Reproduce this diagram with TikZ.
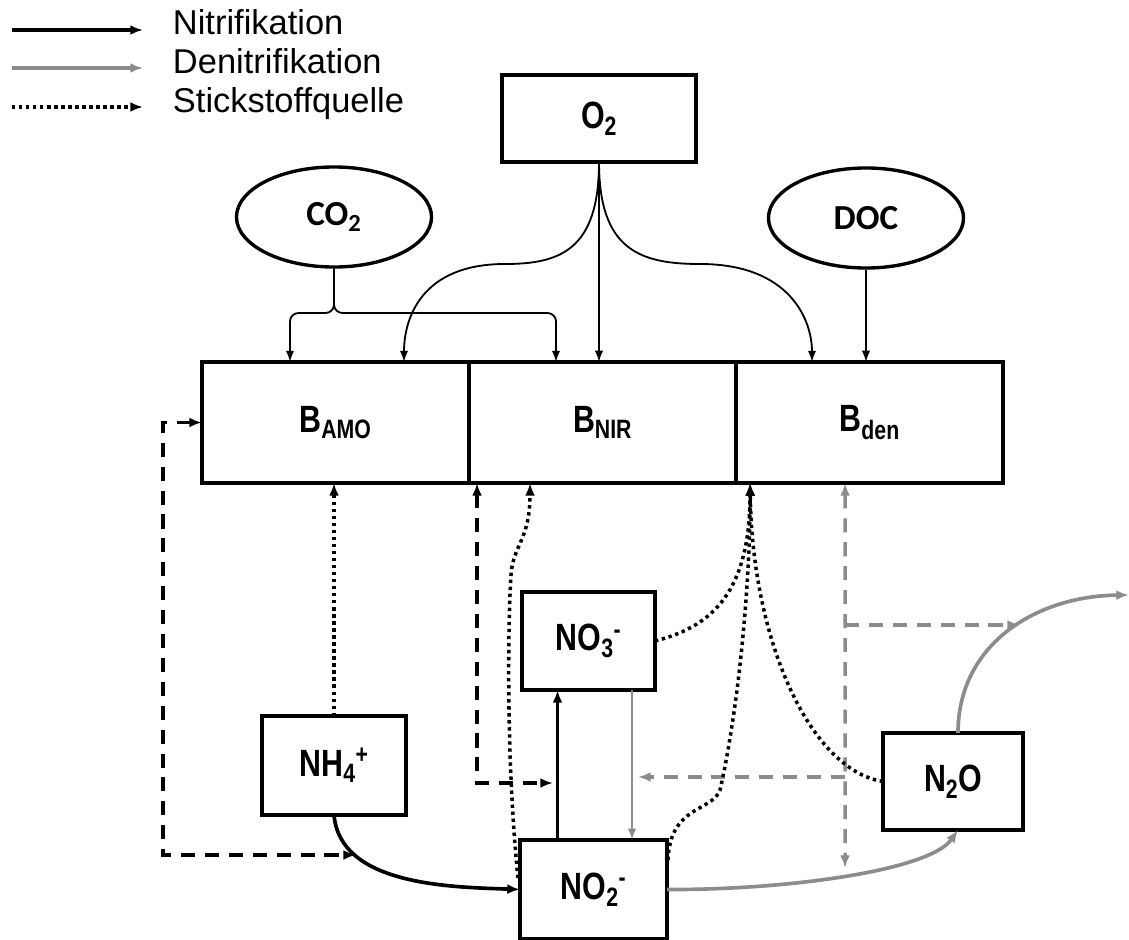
\documentclass[tikz,border=0pt]{standalone}
\usepackage{fontspec}
\usepackage{graphicx}
\setmainfont{Liberation Sans}
\newfontfamily\carlito{Carlito}
\usepackage{tikz}
\usetikzlibrary{arrows.meta,positioning,shapes.geometric,calc}
\definecolor{denigray}{HTML}{8C8C8C}
\newcommand{\narrowlbl}[1]{\scalebox{0.8}[1]{#1}}

\begin{document}
\begin{tikzpicture}[
    x=0.025cm,y=-0.025cm,
    >={Latex[length=9pt,width=7pt]},
    font=\fontsize{24.5}{29}\selectfont,
    pool/.style={draw,line width=2.7pt,rectangle,inner sep=0pt,outer sep=0pt,fill=white,font=\fontsize{27}{32}\selectfont\bfseries},
    bact/.style={pool,minimum width=6.675cm,minimum height=3.025cm},
    substrate/.style={draw,line width=2.4pt,ellipse,inner sep=0pt,minimum width=4.875cm,minimum height=2.5cm,font=\fontsize{25}{30}\selectfont\carlito\bfseries},
    supply/.style={-{Latex[length=8pt,width=6pt]},line width=1.3pt},
    nitri/.style={->,line width=2.6pt},
    deni/.style={nitri,draw=denigray},
    denithin/.style={supply,draw=denigray,line width=1.6pt},
    source/.style={->,line width=2.5pt,dash pattern=on 2.4pt off 2.6pt},
    enz/.style={line width=2.5pt,dash pattern=on 10pt off 7pt}
]
    \useasboundingbox (0,0) rectangle (1129,939);

    \coordinate (lgnit) at (12,30);
    \coordinate (lgden) at (12,68);
    \coordinate (lgsrc) at (12,107);
    \node[anchor=base west] (txnit) at (168,35) {Nitrifikation};
    \node[anchor=base west] (txden) at (168,74) {Denitrifikation};
    \node[anchor=base west] (txsrc) at (168,113) {Stickstoffquelle};
    \draw[nitri] (lgnit) -- ++(131,0);
    \draw[deni] (lgden) -- ++(131,0);
    \draw[source] (lgsrc) -- ++(131,0);

    \node[pool,minimum width=4.85cm,minimum height=2.175cm] (o2) at (599,118.5) {\narrowlbl{O\textsubscript{2}}};
    \node[substrate] (co2) at (334,217) {CO\textsubscript{2}};
    \node[substrate] (doc) at (866,218) {DOC};
    \node[bact] (bamo) at (335.5,422.5) {\narrowlbl{B\textsubscript{AMO}}};
    \node[bact,right=0pt of bamo] (bnir) {\narrowlbl{B\textsubscript{NIR}}};
    \node[bact,right=0pt of bnir] (bden) {\narrowlbl{B\textsubscript{den}}};
    \node[pool,minimum width=3.6cm,minimum height=2.475cm] (nh4) at (334,765.5) {\narrowlbl{NH\textsubscript{4}\textsuperscript{+}}};
    \node[pool,minimum width=3.325cm,minimum height=2.45cm] (no3) at (588.5,641) {\narrowlbl{NO\textsubscript{3}\textsuperscript{-}}};
    \node[pool,minimum width=3.675cm,minimum height=2.475cm] (no2) at (593.5,889.5) {\narrowlbl{NO\textsubscript{2}\textsuperscript{-}}};
    \node[pool,minimum width=3.5cm,minimum height=2.425cm] (n2o) at (953,781.5) {\narrowlbl{N\textsubscript{2}O}};

    \coordinate (amoC) at (290,362);
    \coordinate (amoO) at (404,362);
    \coordinate (nirC) at (556,362);
    \coordinate (denO) at (812,362);
    \draw[supply,rounded corners=6pt] (co2.south) |- (290,313) -- (amoC);
    \draw[supply,rounded corners=6pt] (co2.south) |- (556,313) -- (nirC);
    \draw[supply] (o2.south) .. controls (599,250) and (560,264) .. (505,264) .. controls (420,264) and (404,320) .. (amoO);
    \draw[supply] (o2.south) -- (o2.south |- bnir.north);
    \draw[supply] (o2.south) .. controls (599,250) and (640,264) .. (700,264) .. controls (790,264) and (812,320) .. (denO);
    \draw[supply] (doc.south) -- (doc.south |- bden.north);

    \draw[source] (nh4.north) -- (nh4.north |- bamo.south);
    \coordinate (amoturn) at (163,855);
    \coordinate (amoact) at (356,855);
    \draw[enz,<->] (bamo.west) -| (amoturn) -- (amoact);
    \draw[nitri] (nh4.south) to[out=-85,in=178,looseness=0.9] (no2.west);

    \coordinate (nitup) at ($(no2.north)+(-36,0)$);
    \draw[nitri] (nitup) -- (nitup |- no3.south);
    \coordinate (nirdash) at ($(bnir.south west)+(8,0)$);
    \coordinate (nitact) at (553,783);
    \draw[enz,<->] (nirdash) |- (nitact);
    \draw[source] ($(no2.north west)+(-2,38)$) .. controls (506,760) and (508,620) .. (511,575) .. controls (513,545) and (530,540) .. ($(bnir.south west)+(61,0)$);

    \coordinate (deniup) at ($(no3.south)+(43.5,0)$);
    \draw[denithin] (deniup) -- (deniup |- no2.north);
    \coordinate (denctl) at ($(bden.south west)+(109,0)$);
    \coordinate (denact) at (845,868);
    \draw[enz,denigray,<->] (denctl) -- (denact);
    \coordinate (denlow) at (845,777);
    \coordinate (denleft) at (638,777);
    \draw[enz,denigray,->] (denlow) -- (denleft);
    \coordinate (denhigh) at (845,625);
    \coordinate (denright) at (1020,625);
    \draw[enz,denigray,->] (denhigh) -- (denright);

    \draw[deni] (no2.east) .. controls (790,890) and (930,870) .. ($(n2o.south)+(5,0)$);
    \coordinate (n2out) at (1129,595);
    \draw[deni] ($(n2o.north)+(5,0)$) .. controls (958,645) and (1035,596) .. (n2out);

    \coordinate (denin) at ($(bden.south west)+(14,0)$);
    \draw[source] (no3.east) .. controls (705,628) and (750,600) .. (denin);
    \draw[source] ($(no2.north east)+(1,20)$) .. controls (670,805) and (712,812) .. (720,790) .. controls (736,720) and (750,600) .. (denin);
    \draw[source] (n2o.west) .. controls (810,770) and (752,640) .. (denin);
\end{tikzpicture}
\end{document}
